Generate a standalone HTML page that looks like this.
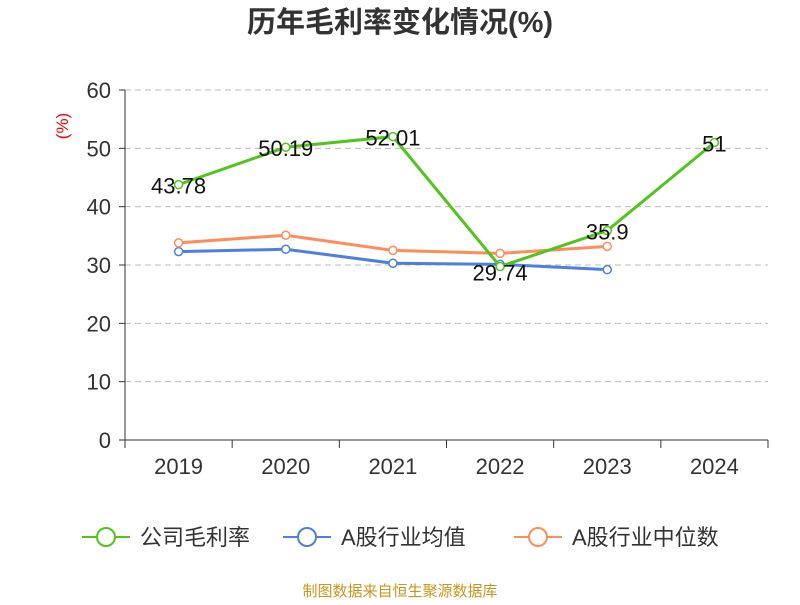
<!DOCTYPE html>
<html><head><meta charset="utf-8"><style>
body{margin:0;background:#fff;font-family:"Liberation Sans","Noto Sans CJK SC",sans-serif}
</style></head><body>
<svg id="c" width="800" height="600" xmlns="http://www.w3.org/2000/svg">
<text x="400" y="32" text-anchor="middle" font-size="29" font-weight="bold" fill="#333" font-family="Liberation Sans,Noto Sans CJK SC,sans-serif">历年毛利率变化情况(%)</text>
<text transform="translate(68,126) rotate(-90)" text-anchor="middle" font-size="17" fill="#e00" font-family="Liberation Sans,sans-serif">(%)</text>
<g id="grid"></g><g id="axes"></g><g id="series"></g>
<g font-family="Liberation Sans,Noto Sans CJK SC,sans-serif" font-size="22" fill="#333">
<g><line x1="82" y1="537" x2="130" y2="537" stroke="#52c41a" stroke-width="2"/><circle cx="106" cy="537" r="9" fill="#fff" stroke="#52c41a" stroke-width="2"/><text x="140" y="545">公司毛利率</text></g>
<g><line x1="283" y1="537" x2="331" y2="537" stroke="#4e7fe0" stroke-width="2"/><circle cx="307" cy="537" r="9" fill="#fff" stroke="#4e7fe0" stroke-width="2"/><text x="341" y="545">A股行业均值</text></g>
<g><line x1="514" y1="537" x2="562" y2="537" stroke="#ff8c5a" stroke-width="2"/><circle cx="538" cy="537" r="9" fill="#fff" stroke="#ff8c5a" stroke-width="2"/><text x="572" y="545">A股行业中位数</text></g>
</g>
<text x="400" y="596" text-anchor="middle" font-size="15" fill="#c8961e" font-family="Liberation Sans,Noto Sans CJK SC,sans-serif">制图数据来自恒生聚源数据库</text>
</svg>
<script>
const categories=["2019","2020","2021","2022","2023","2024"];
const companyValues=[43.78,50.19,52.01,29.74,35.9,51];
const industryAvg=[32.3,32.7,30.3,30.1,29.2];
const industryMedian=[33.8,35.1,32.5,32.0,33.2];
const yTicks=[0,10,20,30,40,50,60];
const NS="http://www.w3.org/2000/svg";
const x0=125,x1=768,y0=440,y1=90;
const bw=(x1-x0)/categories.length;
const xs=i=>x0+bw*(i+0.5);
const ys=v=>y0-(v/60)*(y0-y1);
function mk(p,t,a){const e=document.createElementNS(NS,t);for(const k in a)e.setAttribute(k,a[k]);p.appendChild(e);return e;}
const grid=document.getElementById('grid'),axes=document.getElementById('axes'),ser=document.getElementById('series');
yTicks.forEach(v=>{
  if(v>0){const l=mk(grid,'line',{x1:x0,x2:x1,y1:ys(v),y2:ys(v),stroke:'#bbb','stroke-dasharray':'6,4'});
  
  }
  const tk=mk(axes,'line',{x1:x0-6,x2:x0,y1:ys(v),y2:ys(v),stroke:'#333'});
  
  
  const t=mk(axes,'text',{x:x0-14,y:ys(v)+8,'text-anchor':'end','font-size':22,fill:'#333','font-family':'Liberation Sans,sans-serif'});
  t.textContent=v;
  
  
});
const ya=mk(axes,'line',{x1:x0,x2:x0,y1:y1,y2:y0,stroke:'#333'});


const xa=mk(axes,'line',{x1:x0,x2:x1,y1:y0,y2:y0,stroke:'#333'});


for(let i=0;i<=categories.length;i++){const tk=mk(axes,'line',{x1:x0+bw*i,x2:x0+bw*i,y1:y0,y2:y0+8,stroke:'#333'});
  
  }
categories.forEach((c,i)=>{const t=mk(axes,'text',{x:xs(i),y:y0+34,'text-anchor':'middle','font-size':22,fill:'#333','font-family':'Liberation Sans,sans-serif'});
  t.textContent=c;
  
  });
function series(vals,color,name,labels){
  const g=mk(ser,'g',{});
  
  
  const pl=mk(g,'polyline',{points:vals.map((v,i)=>xs(i)+','+ys(v)).join(' '),fill:'none',stroke:color,'stroke-width':3});
  
  
  vals.forEach((v,i)=>{const p=mk(g,'circle',{cx:xs(i),cy:ys(v),r:4,fill:'#fff',stroke:color,'stroke-width':1.5});
    
    
    if(labels){const t=mk(g,'text',{x:xs(i),y:ys(v)+(i===3?14:9),'text-anchor':'middle','font-size':22,fill:'#111','font-family':'Liberation Sans,sans-serif'});
      t.textContent=v;
      
      }});
}
series(industryAvg,'#4e7fe0','industry-average-series',false);
series(industryMedian,'#ff8c5a','industry-median-series',false);
series(companyValues,'#52c41a','company-series',true);
</script>
</body></html>
